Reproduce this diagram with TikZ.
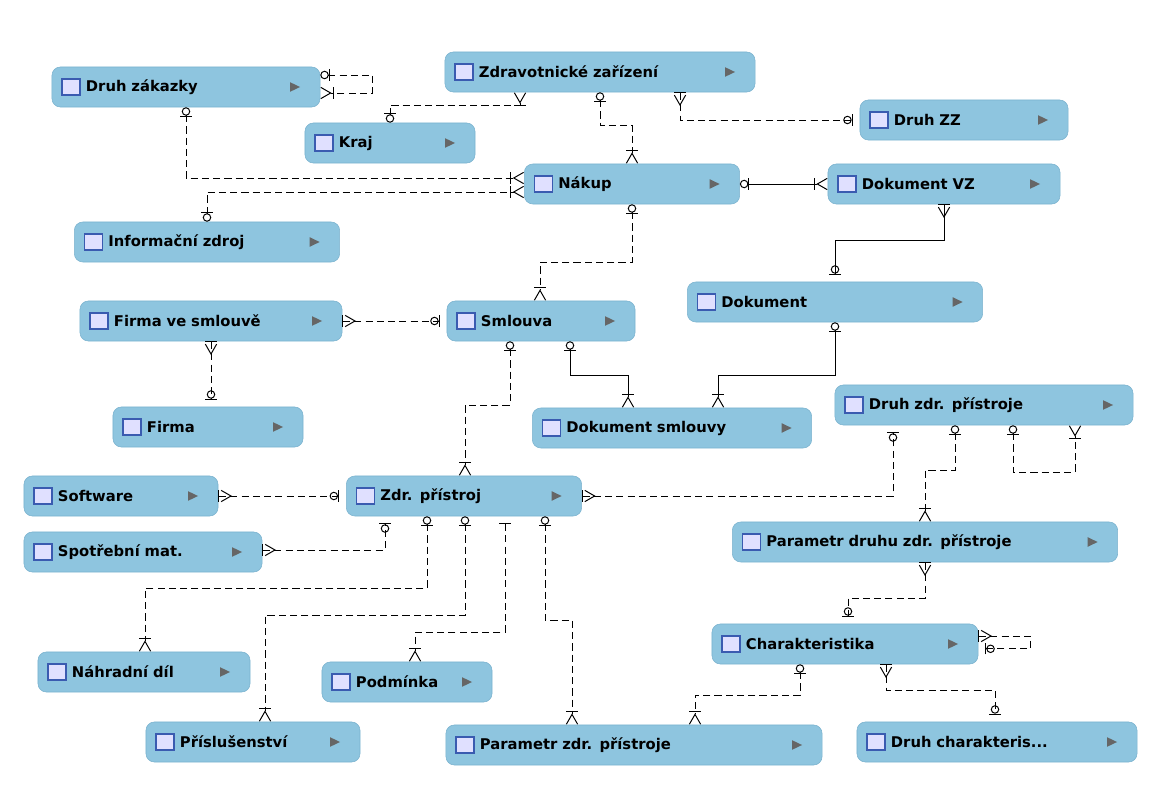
\documentclass[tikz,border=0pt]{standalone}
\usepackage{fontspec}
\setmainfont{DejaVu Sans}
\usetikzlibrary{arrows.meta}
\definecolor{entfill}{HTML}{8EC5DF}
\definecolor{entline}{HTML}{7AB2CE}
\definecolor{iconblue}{HTML}{3A5BB0}
\tikzset{
  ent/.style={rounded corners=6pt, fill=entfill, draw=entline, minimum height=1cm,
    inner ysep=0pt, inner xsep=0.85cm, align=left, font=\bfseries\fontsize{10.5}{12}\selectfont,
    path picture={
      \filldraw[fill=blue!12, draw=iconblue, sharp corners, line width=0.8pt]
        ([xshift=0.25cm,yshift=-0.2cm]path picture bounding box.west) rectangle ++(0.45cm,0.4cm);
      \fill[gray!80!black, sharp corners] ([xshift=-0.75cm,yshift=-0.12cm]path picture bounding box.east)
        -- ++(0.25cm,0.12cm) -- ++(-0.25cm,0.12cm) -- cycle;}},
  rel/.style={line width=0.7pt, dash pattern=on 5pt off 3pt},
  relsolid/.style={line width=0.7pt},
  zo/.tip={Circle[open,length=6pt,width=6pt,sep=0pt] Bar[width=8pt,sep=5pt]},
  zoS/.tip={Bar[width=8pt,sep=0pt] Circle[open,length=6pt,width=6pt,sep=0pt]},
  om/.tip={Bar[width=8pt,sep=1pt] Straight Barb[reversed,length=7pt,width=8pt,sep=0pt]},
  omS/.tip={Straight Barb[reversed,length=7pt,width=8pt,sep=1pt] Bar[width=8pt]},
  one/.tip={Bar[width=8pt,sep=5pt]},
}
\begin{document}
\begin{tikzpicture}[x=0.025cm, y=-0.025cm]
\useasboundingbox (0,0) rectangle (1166,800);
% entities
\node[ent, text width=5.0cm] (druhzak) at (186,87) {Druh zákazky};
\node[ent, text width=6.05cm] (zz) at (600,72) {Zdravotnické zařízení};
\node[ent, text width=2.55cm] (kraj) at (390,143) {Kraj};
\node[ent, text width=3.5cm] (druhzz) at (964,120) {Druh ZZ};
\node[ent, text width=3.68cm] (nakup) at (632,184) {Nákup};
\node[ent, text width=4.1cm] (dokvz) at (944,184) {Dokument VZ};
\node[ent, text width=4.93cm] (info) at (207,242) {Informační zdroj};
\node[ent, text width=5.68cm] (dokument) at (835,302) {Dokument};
\node[ent, text width=4.85cm] (fvs) at (211,321) {Firma ve smlouvě};
\node[ent, text width=3.0cm] (smlouva) at (541,321) {Smlouva};
\node[ent, text width=3.05cm] (firma) at (208,427) {Firma};
\node[ent, text width=5.75cm] (dzp) at (984,405) {Druh zdr. přístroje};
\node[ent, text width=5.28cm] (doksml) at (672,428) {Dokument smlouvy};
\node[ent, text width=3.15cm] (software) at (121,496) {Software};
\node[ent, text width=4.18cm] (zp) at (464,496) {Zdr. přístroj};
\node[ent, text width=4.25cm] (sm) at (143,552) {Spotřební mat.};
\node[ent, text width=7.93cm] (pdzp) at (925,542) {Parametr druhu zdr. přístroje};
\node[ent, text width=4.95cm] (char) at (845,644) {Charakteristika};
\node[ent, text width=3.6cm] (nd) at (144,672) {Náhradní díl};
\node[ent, text width=2.55cm] (podm) at (407,682) {Podmínka};
\node[ent, text width=3.65cm] (prisl) at (253,742) {Příslušenství};
\node[ent, text width=7.7cm] (pzp) at (634,745) {Parametr zdr. přístroje};
\node[ent, text width=5.3cm] (dc) at (997,742) {Druh charakteris...};
% relationships
\draw[rel, zoS-om] ([yshift=0.3cm]druhzak.east) -- ++(52,0) |- ([yshift=-0.15cm]druhzak.east);
\draw[rel, zoS-om] (kraj.north -| 390,0) |- (520,105) -- (zz.south -| 520,0);
\draw[rel, zoS-om] (zz.south -| 600,0) |- (632,125) -- (nakup.north -| 632,0);
\draw[rel, omS-zo] (zz.south -| 680,0) |- (druhzz.west);
\draw[rel, zoS-om] (druhzak.south -| 186,0) |- (nakup.west |- 0,178);
\draw[rel, zoS-om] (info.north -| 207,0) |- (nakup.west |- 0,192);
\draw[relsolid, zoS-om] (nakup.east) -- (dokvz.west);
\draw[rel, zoS-om] (nakup.south -| 632,0) |- (540,262) -- (smlouva.north -| 540,0);
\draw[relsolid, omS-zo] (dokvz.south -| 944,0) |- (835,240) -- (dokument.north -| 835,0);
\draw[rel, omS-zo] (fvs.east) -- (smlouva.west);
\draw[rel, omS-zo] (fvs.south -| 211,0) -- (firma.north -| 211,0);
\draw[relsolid, zoS-om] (smlouva.south -| 570,0) |- (628,375) -- (doksml.north -| 628,0);
\draw[relsolid, zoS-om] (dokument.south -| 835,0) |- (718,375) -- (doksml.north -| 718,0);
\draw[rel, zoS-om] (smlouva.south -| 510,0) |- (465,405) -- (zp.north -| 465,0);
\draw[rel, omS-zo] (software.east) -- (zp.west);
\draw[rel, omS-zo] (zp.east) -| (dzp.south -| 893,0);
\draw[rel, omS-zo] (sm.east |- 0,550) -| (zp.south -| 385,0);
\draw[rel, zoS-om] (zp.south -| 427,0) |- (145,588) -- (nd.north -| 145,0);
\draw[rel, zoS-om] (zp.south -| 465,0) |- (265,615) -- (prisl.north -| 265,0);
\draw[rel, one-om] (zp.south -| 505,0) |- (415,632) -- (podm.north -| 415,0);
\draw[rel, zoS-om] (zp.south -| 545,0) |- (572,620) -- (pzp.north -| 572,0);
\draw[rel, zoS-om] (dzp.south -| 955,0) |- (925,470) -- (pdzp.north -| 925,0);
\draw[rel, zoS-om] (dzp.south -| 1013,0) |- (1075,472) -- (dzp.south -| 1075,0);
\draw[rel, omS-zo] (pdzp.south -| 925,0) |- (848,598) -- (char.north -| 848,0);
\draw[rel, omS-zo] ([yshift=0.2cm]char.east) -- ++(52,0) |- ([yshift=-0.12cm]char.east);
\draw[rel, zoS-om] (char.south -| 800,0) |- (695,695) -- (pzp.north -| 695,0);
\draw[rel, omS-zo] (char.south -| 886,0) |- (995,690) -- (dc.north -| 995,0);
\end{tikzpicture}
\end{document}
